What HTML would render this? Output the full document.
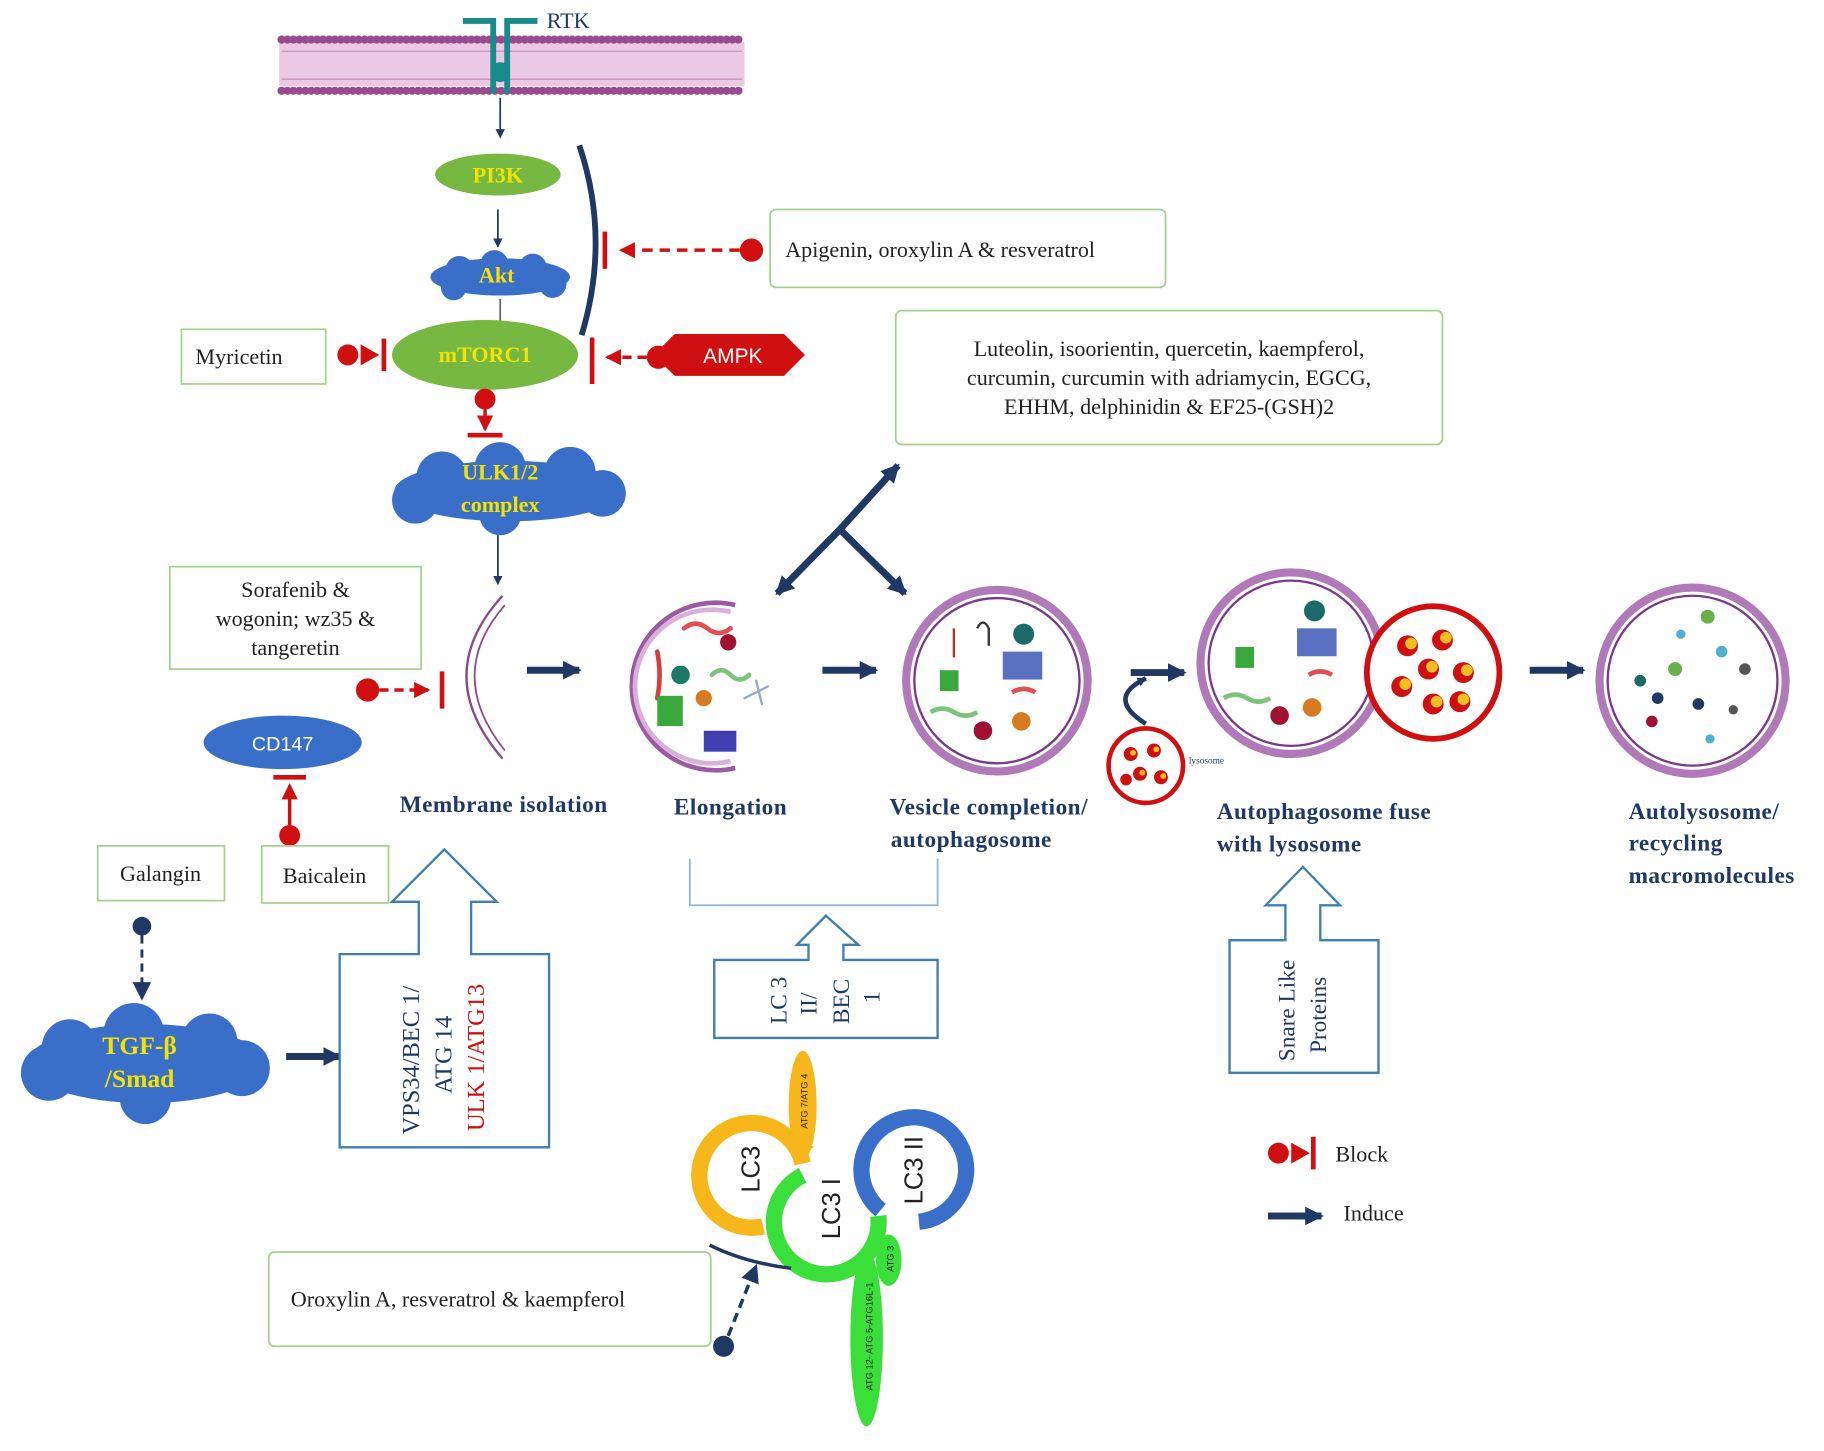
<!DOCTYPE html>
<html><head><meta charset="utf-8"><style>
html,body{margin:0;padding:0;background:#fff;}
svg{display:block;}
text{font-family:"Liberation Serif",serif;}
</style></head><body>
<svg width="1824" height="1451" viewBox="0 0 1568 1247" preserveAspectRatio="none" xmlns="http://www.w3.org/2000/svg">
<defs>
<marker id="ah" markerWidth="8" markerHeight="8" refX="7" refY="4" orient="auto" markerUnits="userSpaceOnUse"><path d="M0,0 L8,4 L0,8z" fill="#1f3864"/></marker>
<marker id="bh" markerWidth="16" markerHeight="16" refX="14" refY="8" orient="auto" markerUnits="userSpaceOnUse"><path d="M0,0 L16,8 L0,16z" fill="#1f3864"/></marker>
<marker id="rh" markerWidth="14" markerHeight="14" refX="12" refY="7" orient="auto" markerUnits="userSpaceOnUse"><path d="M0,0 L14,7 L0,14z" fill="#d01010"/></marker>
</defs>
<!-- membrane -->
<rect x="240" y="36" width="400" height="38" fill="#ebc9e4"/>
<line x1="242" y1="34" x2="638" y2="34" stroke="#9a4a8f" stroke-width="7" stroke-dasharray="0.1 5" stroke-linecap="round"/>
<line x1="242" y1="78" x2="638" y2="78" stroke="#9a4a8f" stroke-width="7" stroke-dasharray="0.1 5" stroke-linecap="round"/>
<line x1="242" y1="44" x2="638" y2="44" stroke="#c58ab8" stroke-width="1"/>
<line x1="242" y1="68" x2="638" y2="68" stroke="#c58ab8" stroke-width="1"/>
<!-- RTK -->
<g stroke="#178a8a" stroke-width="5" fill="none">
<path d="M398,18 L424,18 L424,80 M462,18 L436,18 L436,80"/>
<circle cx="430" cy="62" r="6" fill="#178a8a"/>
</g>
<text x="470" y="24" font-size="19" fill="#1f3864">RTK</text>
<line x1="430" y1="84" x2="430" y2="118" stroke="#1f3864" stroke-width="1.5" marker-end="url(#ah)"/>
<ellipse cx="428" cy="150" rx="54" ry="18" fill="#77b843"/>
<text x="428" y="157" font-size="19" font-weight="bold" fill="#f4e300" text-anchor="middle">PI3K</text>
<line x1="428" y1="180" x2="428" y2="212" stroke="#1f3864" stroke-width="1.5" marker-end="url(#ah)"/>
<g fill="#3a6fc9"><ellipse cx="430" cy="238" rx="60" ry="16"/><circle cx="395" cy="232" r="12"/><circle cx="425" cy="227" r="12"/><circle cx="458" cy="230" r="12"/><circle cx="475" cy="244" r="12"/><circle cx="390" cy="247" r="11"/></g>
<text x="427" y="243" font-size="19" font-weight="bold" fill="#f4e300" text-anchor="middle">Akt</text>
<line x1="430" y1="257" x2="430" y2="276" stroke="#666" stroke-width="1.5"/>
<ellipse cx="417" cy="305" rx="80" ry="30" fill="#77b843"/>
<text x="417" y="311" font-size="19" font-weight="bold" fill="#f4e300" text-anchor="middle">mTORC1</text>
<path d="M498,125 Q525,205 500,288" stroke="#1f3864" stroke-width="5" fill="none"/>
<!-- Apigenin -->
<rect x="662" y="180" width="340" height="67" rx="5" fill="#fff" stroke="#a9cf8e" stroke-width="1.5"/>
<text x="675" y="221" font-size="19" fill="#222">Apigenin, oroxylin A &amp; resveratrol</text>
<circle cx="646" cy="215" r="10" fill="#d01010"/>
<line x1="636" y1="215" x2="534" y2="215" stroke="#d01010" stroke-width="3" stroke-dasharray="9 6" marker-end="url(#rh)"/>
<line x1="520" y1="199" x2="520" y2="231" stroke="#d01010" stroke-width="4"/>
<!-- Myricetin -->
<rect x="156" y="283" width="124" height="47" fill="#fff" stroke="#a9cf8e" stroke-width="1.5"/>
<text x="168" y="313" font-size="19" fill="#222">Myricetin</text>
<circle cx="299" cy="305" r="9" fill="#d01010"/>
<path d="M310,296 L326,305 L310,314z" fill="#d01010"/>
<line x1="330" y1="291" x2="330" y2="319" stroke="#d01010" stroke-width="4"/>
<!-- AMPK -->
<path d="M562,305 L580,287 L674,287 L692,305 L674,323 L580,323z" fill="#d01010"/>
<text x="630" y="312" font-size="18" fill="#fff" text-anchor="middle" style="font-family:'Liberation Sans',sans-serif">AMPK</text>
<circle cx="566" cy="307" r="10" fill="#d01010"/>
<line x1="556" y1="307" x2="522" y2="307" stroke="#d01010" stroke-width="3" stroke-dasharray="8 5" marker-end="url(#rh)"/>
<line x1="509" y1="290" x2="509" y2="330" stroke="#d01010" stroke-width="4"/>
<circle cx="417" cy="343" r="9" fill="#d01010"/>
<line x1="417" y1="352" x2="417" y2="369" stroke="#d01010" stroke-width="3" marker-end="url(#rh)"/>
<line x1="402" y1="374" x2="432" y2="374" stroke="#d01010" stroke-width="4"/>
<!-- ULK cloud -->
<g fill="#3a6fc9"><ellipse cx="437" cy="422" rx="98" ry="26"/><circle cx="380" cy="410" r="22"/><circle cx="430" cy="402" r="22"/><circle cx="490" cy="406" r="22"/><circle cx="518" cy="424" r="20"/><circle cx="357" cy="430" r="20"/><circle cx="430" cy="442" r="18"/></g>
<text x="430" y="412" font-size="19" font-weight="bold" fill="#f4e300" text-anchor="middle">ULK1/2</text>
<text x="430" y="440" font-size="19" font-weight="bold" fill="#f4e300" text-anchor="middle">complex</text>
<line x1="428" y1="460" x2="428" y2="502" stroke="#1f3864" stroke-width="1.5" marker-end="url(#ah)"/>
<!-- Luteolin -->
<rect x="770" y="267" width="470" height="115" rx="5" fill="#fff" stroke="#a9cf8e" stroke-width="1.5"/>
<text x="1005" y="306" font-size="19" fill="#222" text-anchor="middle">Luteolin, isoorientin, quercetin, kaempferol,</text>
<text x="1005" y="331" font-size="19" fill="#222" text-anchor="middle">curcumin, curcumin with adriamycin, EGCG,</text>
<text x="1005" y="356" font-size="19" fill="#222" text-anchor="middle">EHHM, delphinidin &amp; EF25-(GSH)2</text>
<!-- V arrows -->
<g stroke="#1f3864" stroke-width="6" fill="none">
<line x1="722" y1="455" x2="668" y2="510" marker-end="url(#bh)"/>
<line x1="722" y1="455" x2="772" y2="400" marker-end="url(#bh)"/>
<line x1="722" y1="455" x2="778" y2="510" marker-end="url(#bh)"/>
</g>
<!-- Sorafenib -->
<rect x="146" y="487" width="216" height="88" fill="#fff" stroke="#a9cf8e" stroke-width="1.5"/>
<text x="254" y="513" font-size="19" fill="#222" text-anchor="middle">Sorafenib &amp;</text>
<text x="254" y="538" font-size="19" fill="#222" text-anchor="middle">wogonin; wz35 &amp;</text>
<text x="254" y="563" font-size="19" fill="#222" text-anchor="middle">tangeretin</text>
<!-- membrane isolation crescent -->
<path d="M432,512 Q370,580 432,652" stroke="#8a4a8a" stroke-width="2" fill="none"/>
<path d="M434,520 Q382,580 434,645" stroke="#8a4a8a" stroke-width="1.5" fill="none"/>
<circle cx="316" cy="593" r="10" fill="#d01010"/>
<line x1="326" y1="593" x2="368" y2="593" stroke="#d01010" stroke-width="3" stroke-dasharray="8 5" marker-end="url(#rh)"/>
<line x1="380" y1="577" x2="380" y2="609" stroke="#d01010" stroke-width="4"/>
<!-- CD147 -->
<ellipse cx="243" cy="638" rx="68" ry="23" fill="#3a6fc9"/>
<text x="243" y="645" font-size="17" fill="#fff" text-anchor="middle" style="font-family:'Liberation Sans',sans-serif">CD147</text>
<circle cx="249" cy="718" r="9" fill="#d01010"/>
<line x1="249" y1="709" x2="249" y2="675" stroke="#d01010" stroke-width="3" marker-end="url(#rh)"/>
<line x1="235" y1="668" x2="263" y2="668" stroke="#d01010" stroke-width="4"/>
<rect x="225" y="727" width="109" height="49" fill="#fff" stroke="#a9cf8e" stroke-width="1.5"/>
<text x="279" y="759" font-size="19" fill="#222" text-anchor="middle">Baicalein</text>
<rect x="84" y="727" width="109" height="47" fill="#fff" stroke="#a9cf8e" stroke-width="1.5"/>
<text x="138" y="757" font-size="19" fill="#222" text-anchor="middle">Galangin</text>
<circle cx="122" cy="796" r="8" fill="#1f3864"/>
<line x1="122" y1="804" x2="122" y2="858" stroke="#1f3864" stroke-width="2.5" stroke-dasharray="7 5" marker-end="url(#bh)"/>
<!-- TGF cloud -->
<g fill="#3a6fc9"><ellipse cx="125" cy="914" rx="102" ry="34"/><circle cx="60" cy="900" r="24"/><circle cx="115" cy="888" r="26"/><circle cx="180" cy="895" r="24"/><circle cx="208" cy="918" r="24"/><circle cx="42" cy="922" r="24"/><circle cx="125" cy="944" r="22"/></g>
<text x="120" y="906" font-size="22" font-weight="bold" fill="#f4e300" text-anchor="middle">TGF-β</text>
<text x="120" y="934" font-size="22" font-weight="bold" fill="#f4e300" text-anchor="middle">/Smad</text>
<line x1="246" y1="908" x2="292" y2="908" stroke="#1f3864" stroke-width="6" marker-end="url(#bh)"/>
<!-- hollow arrow 1 -->
<path d="M292,820 L360,820 L360,775 L337,775 L382,730 L427,775 L405,775 L405,820 L472,820 L472,986 L292,986z" fill="#fff" stroke="#3f7fb0" stroke-width="2"/>
<g font-size="21">
<text transform="translate(360,975) rotate(-90)" fill="#1f3864">VPS34/BEC 1/</text>
<text transform="translate(388,940) rotate(-90)" fill="#1f3864">ATG 14</text>
<text transform="translate(416,972) rotate(-90)" fill="#d01010">ULK 1/ATG13</text>
</g>
<!-- stage labels -->
<g font-size="20" font-weight="bold" fill="#1f3864" letter-spacing="0.4">
<text x="433" y="698" text-anchor="middle">Membrane isolation</text>
<text x="628" y="700" text-anchor="middle">Elongation</text>
<text x="850" y="700" text-anchor="middle">Vesicle completion/</text>
<text x="835" y="728" text-anchor="middle">autophagosome</text>
<text x="1046" y="704">Autophagosome fuse</text>
<text x="1046" y="732">with lysosome</text>
<text x="1400" y="704">Autolysosome/</text>
<text x="1400" y="731">recycling</text>
<text x="1400" y="759">macromolecules</text>
</g>
<g stroke="#1f3864" stroke-width="6">
<line x1="453" y1="576" x2="498" y2="576" marker-end="url(#bh)"/>
<line x1="707" y1="576" x2="753" y2="576" marker-end="url(#bh)"/>
<line x1="972" y1="578" x2="1018" y2="578" marker-end="url(#bh)"/>
<line x1="1315" y1="576" x2="1361" y2="576" marker-end="url(#bh)"/>
</g>
<!-- elongation crescent -->
<path d="M632,520 A72,72 0 1,0 632,660" stroke="#9c5aa5" stroke-width="4" fill="none"/>
<path d="M628,526 A66,66 0 1,0 628,654" stroke="#d8b0d8" stroke-width="4" fill="none"/>
<g stroke-width="4" fill="none" stroke-linecap="round">
<path d="M588,540 q10,-8 20,0 q10,8 20,0" stroke="#e05050"/>
<path d="M612,580 q8,-8 16,0 q8,8 16,0" stroke="#7cc47c"/>
<path d="M565,560 q4,20 0,40" stroke="#d04040"/>
<path d="M640,600 l20,-10 m-10,-5 l5,20" stroke="#9aa8c8" stroke-width="2"/>
</g>
<rect x="565" y="598" width="22" height="26" fill="#3aa83a"/>
<rect x="605" y="628" width="28" height="18" fill="#4040b0"/>
<circle cx="585" cy="580" r="8" fill="#1a7a6a"/><circle cx="626" cy="552" r="7" fill="#a01030"/><circle cx="605" cy="600" r="7" fill="#d87a20"/>
<!-- vesicle -->
<circle cx="857" cy="585" r="78" fill="#fff" stroke="#b07ab8" stroke-width="7"/>
<circle cx="857" cy="585" r="71" fill="none" stroke="#7a3a8a" stroke-width="2"/>
<rect x="862" y="560" width="34" height="24" fill="#5a70c0"/>
<circle cx="880" cy="545" r="9" fill="#1a6a6a"/><circle cx="845" cy="628" r="8" fill="#a01030"/><circle cx="878" cy="620" r="8" fill="#d87a20"/>
<rect x="808" y="576" width="16" height="18" fill="#3aa83a"/>
<path d="M800,612 q10,-6 20,0 q10,6 20,0" stroke="#7cc47c" stroke-width="4" fill="none"/>
<path d="M870,595 q10,-6 20,0" stroke="#e05050" stroke-width="4" fill="none"/>
<line x1="820" y1="540" x2="820" y2="565" stroke="#b03030" stroke-width="2"/>
<path d="M840,540 q5,-10 10,0 l0,15" stroke="#333" stroke-width="2" fill="none"/>
<!-- fuse -->
<circle cx="1110" cy="570" r="78" fill="#fff" stroke="#b07ab8" stroke-width="7"/>
<circle cx="1110" cy="570" r="71" fill="none" stroke="#7a3a8a" stroke-width="2"/>
<rect x="1115" y="540" width="34" height="24" fill="#5a70c0"/>
<circle cx="1130" cy="525" r="9" fill="#1a6a6a"/><circle cx="1100" cy="615" r="8" fill="#a01030"/><circle cx="1128" cy="608" r="8" fill="#d87a20"/>
<rect x="1062" y="556" width="16" height="18" fill="#3aa83a"/>
<path d="M1052,600 q10,-6 20,0 q10,6 20,0" stroke="#7cc47c" stroke-width="4" fill="none"/>
<path d="M1125,580 q10,-6 20,0" stroke="#e05050" stroke-width="4" fill="none"/>
<circle cx="1232" cy="578" r="57" fill="#fff" stroke="#d01010" stroke-width="5"/>
<g fill="#d01010"><circle cx="1210" cy="555" r="9"/><circle cx="1240" cy="550" r="9"/><circle cx="1228" cy="575" r="9"/><circle cx="1258" cy="578" r="9"/><circle cx="1205" cy="590" r="9"/><circle cx="1232" cy="605" r="9"/><circle cx="1255" cy="603" r="9"/></g>
<g fill="#f0c020"><circle cx="1213" cy="553" r="5"/><circle cx="1243" cy="548" r="5"/><circle cx="1231" cy="573" r="5"/><circle cx="1261" cy="576" r="5"/><circle cx="1208" cy="588" r="5"/><circle cx="1235" cy="603" r="5"/><circle cx="1258" cy="601" r="5"/></g>
<!-- small lysosome -->
<circle cx="985" cy="658" r="32" fill="#fff" stroke="#d01010" stroke-width="4"/>
<g fill="#d01010"><circle cx="972" cy="648" r="6"/><circle cx="992" cy="645" r="6"/><circle cx="980" cy="665" r="6"/><circle cx="998" cy="668" r="6"/><circle cx="968" cy="670" r="5"/></g>
<g fill="#f0c020"><circle cx="974" cy="647" r="2.5"/><circle cx="994" cy="644" r="2.5"/><circle cx="982" cy="664" r="2.5"/><circle cx="1000" cy="667" r="2.5"/></g>
<text x="1022" y="656" font-size="8" fill="#1f3864">lysosome</text>
<path d="M985,622 Q950,600 985,583" stroke="#1f3864" stroke-width="4" fill="none" marker-end="url(#ah)"/>
<!-- autolysosome -->
<circle cx="1455" cy="585" r="80" fill="#fff" stroke="#b07ab8" stroke-width="7"/>
<circle cx="1455" cy="585" r="73" fill="none" stroke="#7a3a8a" stroke-width="2"/>
<g><circle cx="1410" cy="585" r="5" fill="#1a6a6a"/><circle cx="1425" cy="600" r="5" fill="#1f3864"/><circle cx="1440" cy="575" r="6" fill="#6ab04a"/><circle cx="1468" cy="530" r="6" fill="#6ab04a"/><circle cx="1480" cy="560" r="5" fill="#50b0d0"/><circle cx="1420" cy="620" r="5" fill="#a01030"/><circle cx="1460" cy="605" r="5" fill="#1f3864"/><circle cx="1500" cy="575" r="5" fill="#555"/><circle cx="1490" cy="610" r="4" fill="#555"/><circle cx="1445" cy="545" r="4" fill="#50b0d0"/><circle cx="1470" cy="635" r="4" fill="#50b0d0"/></g>
<!-- bracket under elongation -->
<path d="M593,738 L593,778 L806,778 L806,738" stroke="#8fb4d8" stroke-width="1.5" fill="none"/>
<!-- LC3 hollow arrow -->
<path d="M614,825 L695,825 L695,812 L685,812 L710,787 L738,812 L725,812 L725,825 L806,825 L806,892 L614,892z" fill="#fff" stroke="#3f7fb0" stroke-width="2"/>
<g font-size="20" fill="#1f3864">
<text transform="translate(676,880) rotate(-90)">LC 3</text>
<text transform="translate(702,872) rotate(-90)">II/</text>
<text transform="translate(730,880) rotate(-90)">BEC</text>
<text transform="translate(756,862) rotate(-90)">1</text>
</g>
<!-- Snare hollow arrow -->
<path d="M1057,808 L1105,808 L1105,778 L1088,778 L1120,745 L1152,778 L1135,778 L1135,808 L1185,808 L1185,922 L1057,922z" fill="#fff" stroke="#3f7fb0" stroke-width="2"/>
<g font-size="20" fill="#1f3864">
<text transform="translate(1113,912) rotate(-90)">Snare Like</text>
<text transform="translate(1140,905) rotate(-90)">Proteins</text>
</g>
<!-- LC3 cycle -->
<path d="M656,1054 A45,45 0 1,1 690,1000" stroke="#f7b61a" stroke-width="14" fill="none"/>
<text transform="translate(653,1025) rotate(-90)" font-size="22" fill="#222" style="font-family:'Liberation Sans',sans-serif">LC3</text>
<path d="M757,1040 A45,45 0 1,1 790,1050" stroke="#3a6fc9" stroke-width="14" fill="none"/>
<text transform="translate(793,1035) rotate(-90)" font-size="22" fill="#222" style="font-family:'Liberation Sans',sans-serif">LC3 II</text>
<path d="M690,1010 A45,45 0 1,0 755,1045" stroke="#3adf3a" stroke-width="14" fill="none"/>
<text transform="translate(722,1065) rotate(-90)" font-size="22" fill="#222" style="font-family:'Liberation Sans',sans-serif">LC3 I</text>
<ellipse cx="690" cy="950" rx="12" ry="47" fill="#f7b61a"/>
<text transform="translate(694,970) rotate(-90)" font-size="8" fill="#222" style="font-family:'Liberation Sans',sans-serif">ATG 7/ATG 4</text>
<path d="M690,995 L680,985 L700,985z" fill="#f7b61a"/>
<ellipse cx="745" cy="1150" rx="14" ry="76" fill="#3adf3a"/>
<text transform="translate(750,1195) rotate(-90)" font-size="8" fill="#222" style="font-family:'Liberation Sans',sans-serif">ATG 12- ATG 5-ATG16L-1</text>
<ellipse cx="764" cy="1083" rx="11" ry="22" fill="#3adf3a"/>
<text transform="translate(768,1093) rotate(-90)" font-size="8" fill="#222" style="font-family:'Liberation Sans',sans-serif">ATG 3</text>
<path d="M610,1070 Q640,1085 680,1090" stroke="#1f3864" stroke-width="3" fill="none"/>
<!-- Oroxylin -->
<rect x="231" y="1076" width="380" height="81" rx="5" fill="#fff" stroke="#a9cf8e" stroke-width="1.5"/>
<text x="250" y="1123" font-size="19" fill="#222">Oroxylin A, resveratrol &amp; kaempferol</text>
<circle cx="622" cy="1157" r="9" fill="#1f3864"/>
<line x1="626" y1="1148" x2="650" y2="1088" stroke="#1f3864" stroke-width="3" stroke-dasharray="8 5" marker-end="url(#bh)"/>
<!-- legend -->
<circle cx="1099" cy="991" r="9" fill="#d01010"/>
<path d="M1110,982 L1126,991 L1110,1000z" fill="#d01010"/>
<line x1="1129" y1="977" x2="1129" y2="1005" stroke="#d01010" stroke-width="4"/>
<text x="1148" y="998" font-size="19" fill="#222">Block</text>
<line x1="1090" y1="1045" x2="1136" y2="1045" stroke="#1f3864" stroke-width="6" marker-end="url(#bh)"/>
<text x="1155" y="1049" font-size="19" fill="#222">Induce</text>
</svg>
</body></html>
